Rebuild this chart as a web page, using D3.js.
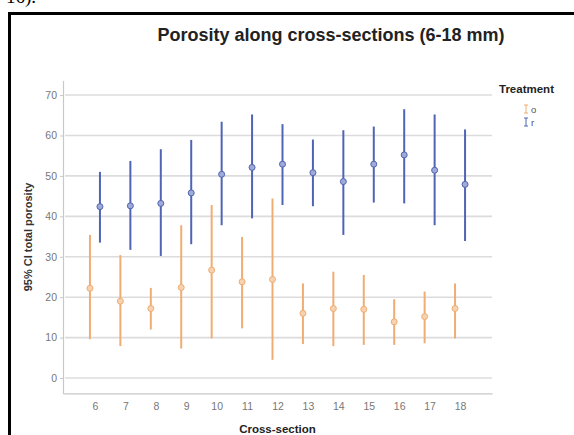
<!DOCTYPE html>
<html>
<head>
<meta charset="utf-8">
<script src="https://cdn.jsdelivr.net/npm/d3@7"></script>
<style>
  body { margin: 0; background: #fff; }
  svg { display: block; font-family: Arial, "Liberation Sans", sans-serif; }
</style>
</head>
<body>
<div id="vis"></div>
<script>
// DATA -------------------------------------------------------------------------
const sections = ["6", "7", "8", "9", "10", "11", "12", "13", "14", "15", "16", "17", "18"]
const treatments = ["o", "r"]

// treatment o (orange)
const oMean  = [22.2, 19.0, 17.2, 22.4, 26.7, 23.8, 24.4, 16.0, 17.2, 17.0, 13.9, 15.2, 17.2]
const oLower = [ 9.6,  7.9, 12.0,  7.3,  9.8, 12.3,  4.5,  8.4,  7.9,  8.2,  8.2,  8.6,  9.8]
const oUpper = [35.4, 30.4, 22.3, 37.8, 42.8, 34.9, 44.4, 23.4, 26.3, 25.5, 19.5, 21.4, 23.4]

// treatment r (blue)
const rMean  = [42.4, 42.6, 43.2, 45.8, 50.4, 52.1, 52.9, 50.8, 48.6, 52.9, 55.2, 51.4, 47.9]
const rLower = [33.5, 31.7, 30.2, 33.1, 37.8, 39.5, 42.8, 42.5, 35.4, 43.4, 43.2, 37.8, 33.9]
const rUpper = [51.0, 53.7, 56.6, 58.9, 63.4, 65.2, 62.8, 59.0, 61.3, 62.2, 66.5, 65.2, 61.5]

const yTicks = [0, 10, 20, 30, 40, 50, 60, 70]

// SETTINGS -------------------------------------------------------------------------
const width = 574, height = 435
const plot = { left: 63, right: 492, top: 80.5, bottom: 393.4 }
const colors = { o: "#efad72", r: "#5064b5" }
const dodge = 5

const svg = d3.select("#vis").append("svg")
  .attr("width", width)
  .attr("height", height)

// page fragment + frame round the figure
svg.append("text")
  .attr("x", 6).attr("y", 3)
  .style("font-family", "'Liberation Serif', 'DejaVu Serif', serif")
  .style("font-size", "19px")
  .text("16).")

svg.append("path")
  .attr("d", `M9.5,${height} V13.5 H${width}`)
  .attr("fill", "none")
  .attr("stroke", "#000")
  .attr("stroke-width", 3)

// SCALES -------------------------------------------------------------------------
const x = d3.scalePoint()
  .domain(sections)
  .range([plot.left, plot.right])
  .padding(1.05)

const y = d3.scaleLinear()
  .domain([-3.8, 73.6])
  .range([plot.bottom, plot.top])

// gridlines
svg.append("g")
  .selectAll("line")
  .data(yTicks)
  .join("line")
  .attr("x1", plot.left + 2)
  .attr("x2", plot.right)
  .attr("y1", d => y(d))
  .attr("y2", d => y(d))
  .attr("stroke", "#dcdcdc")
  .attr("stroke-width", 1.6)

// AXES -------------------------------------------------------------------------
const yAxis = svg.append("g")
  .attr("transform", `translate(${plot.left},0)`)
  .call(d3.axisLeft(y).tickValues(yTicks).tickSize(3).tickSizeOuter(0).tickPadding(3))
yAxis.select(".domain").attr("stroke", "#c8c8c8").attr("stroke-width", 1.2)
yAxis.selectAll(".tick line").attr("stroke", "#c8c8c8")
yAxis.selectAll(".tick text").attr("fill", "#777").style("font-size", "10.5px")

const xAxis = svg.append("g")
  .attr("transform", `translate(0,${plot.bottom})`)
  .call(d3.axisBottom(x).tickSize(0).tickSizeOuter(0).tickPadding(9))
xAxis.select(".domain").attr("stroke", "#c8c8c8").attr("stroke-width", 1.2)
xAxis.selectAll(".tick text").attr("fill", "#777").style("font-size", "10.5px")

// titles
svg.append("text")
  .attr("x", 331).attr("y", 41)
  .attr("text-anchor", "middle")
  .style("font-size", "18px").style("font-weight", "bold")
  .attr("fill", "#222")
  .text("Porosity along cross-sections (6-18 mm)")

svg.append("text")
  .attr("x", (plot.left + plot.right) / 2).attr("y", 433)
  .attr("text-anchor", "middle")
  .style("font-size", "11.5px").style("font-weight", "bold")
  .attr("fill", "#222")
  .text("Cross-section")

svg.append("text")
  .attr("transform", `translate(32,${(plot.top + plot.bottom) / 2}) rotate(-90)`)
  .attr("text-anchor", "middle")
  .style("font-size", "11px").style("font-weight", "bold")
  .attr("fill", "#333")
  .text("95% CI total porosity")

// ERROR BARS -------------------------------------------------------------------------
const series = [
  { key: "o", mean: oMean, lower: oLower, upper: oUpper, shift: -dodge },
  { key: "r", mean: rMean, lower: rLower, upper: rUpper, shift: dodge }
]

series.forEach(s => {
  const rows = sections.map((c, i) => ({ c, m: s.mean[i], lo: s.lower[i], hi: s.upper[i] }))
  const g = svg.append("g").attr("class", "series-" + s.key)

  g.selectAll("line")
    .data(rows)
    .join("line")
    .attr("x1", d => x(d.c) + s.shift)
    .attr("x2", d => x(d.c) + s.shift)
    .attr("y1", d => y(d.lo))
    .attr("y2", d => y(d.hi))
    .attr("stroke", colors[s.key])
    .attr("stroke-width", 2)

  // mean marker: pale fill of the series colour
  g.selectAll("circle")
    .data(rows)
    .join("circle")
    .attr("cx", d => x(d.c) + s.shift)
    .attr("cy", d => y(d.m))
    .attr("r", 3)
    .attr("fill", d3.interpolateRgb(colors[s.key], "#fff")(0.45))
    .attr("stroke", colors[s.key])
    .attr("stroke-width", 1)
})

// LEGEND -------------------------------------------------------------------------
svg.append("text")
  .attr("x", 499).attr("y", 93)
  .style("font-size", "11.5px").style("font-weight", "bold")
  .attr("fill", "#222")
  .text("Treatment")

const legend = svg.append("g")
  .selectAll("g")
  .data(treatments)
  .join("g")
  .attr("transform", (d, i) => `translate(526,${109 + i * 13})`)

legend.append("path")
  .attr("d", "M-2,-4 H2 M0,-4 V4 M-2,4 H2")
  .attr("fill", "none")
  .attr("stroke", d => colors[d])
  .attr("stroke-width", 1)

legend.append("text")
  .attr("x", 5).attr("y", 3.5)
  .style("font-size", "9.5px")
  .attr("fill", "#555")
  .text(d => d)
</script>
</body>
</html>
